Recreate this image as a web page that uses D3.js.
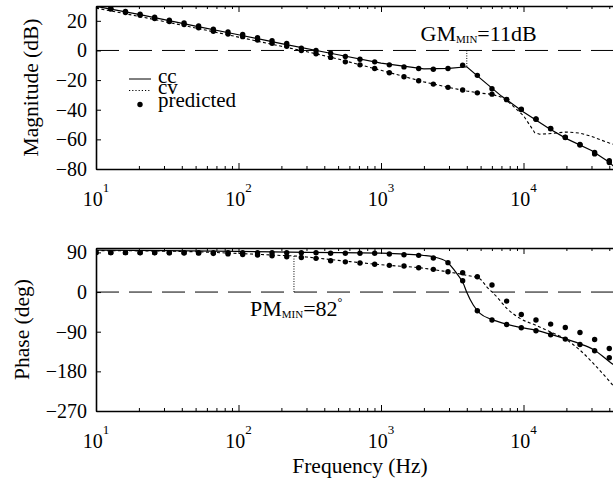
<!DOCTYPE html>
<html>
<head>
<meta charset="utf-8">
<script src="https://cdn.jsdelivr.net/npm/d3@7"></script>
<style>
  html, body { margin: 0; padding: 0; background: #fff; }
</style>
</head>
<body>
<svg id="chart" width="613" height="483"></svg>
<script>
// Frequencies (Hz) at which the predicted response is marked
const predFreq = [10, 12.7, 16.1, 20.4, 25.8, 32.7, 41.5, 52.5, 66.6, 84.4,
  107, 136, 172, 218, 276, 350, 443, 562, 712, 903,
  1144, 1450, 1838, 2329, 2952, 3741, 4742, 6010, 7617, 9652,
  12234, 15506, 19651, 24907, 31567, 40000];

// Predicted magnitude (dB)
const ccMagPred = [30.1, 28.5, 26.3, 24.5, 22.5, 20.5, 18.6, 16.5, 14.3, 12.5,
  10.8, 8.6, 6.6, 4.7, 1.6, 0, -1.8, -4, -5.9, -7.7,
  -9.7, -11.1, -12.2, -12.7, -12.2, -10, -16.8, -25.8, -33, -39.7,
  -46.2, -52.6, -58.5, -63.4, -68.9, -74.4];
const cvMagPred = [29.7, 27.9, 25.6, 23.7, 21.6, 19.5, 17.5, 15.3, 13.0, 11.1,
  9.3, 7.0, 4.9, 2.8, 0, -2.2, -4.7, -7.7, -9.7, -12.2,
  -15, -17.7, -20.4, -22.7, -24.9, -26.7, -28.6, -29.5, -33.2, -39.9,
  -46.4, -52.8, -58.7, -63.8, -69.8, -75.6];

// Predicted phase (deg)
const ccPhPred = [89.5, 89.5, 89.5, 89.5, 89.5, 89.4, 89.4, 89.4, 89.3, 89.3,
  89.3, 89.3, 89.3, 89.3, 89.3, 89.3, 88, 88, 88, 88,
  86.4, 84.8, 83.3, 77.3, 66.7, 25.8, -42.4, -63.6, -73.5, -81,
  -87.9, -97, -106.8, -118.9, -133.3, -149.2];
const cvPhPred = [89.5, 89.5, 89.4, 89.3, 89.2, 89, 88.7, 88.3, 87.6, 86.6,
  85.4, 84, 82.3, 80.3, 78.4, 76.5, 71.2, 68.6, 66, 63.2,
  60.6, 59, 55.3, 51.5, 46.2, 43.9, 34.8, 15.9, -20.5, -50.8,
  -63.6, -72.7, -80.3, -91.7, -107.6, -128];

// Measured curves, [frequency (Hz), value]
const ccMag = [[10, 29.8], [20, 24.3], [50, 16.4], [100, 10.6], [200, 4.6], [500, -2.9],
  [1000, -8.5], [2000, -12.4], [3000, -12.1], [4000, -11], [5000, -19], [7000, -30.8],
  [10000, -41.5], [15000, -52.5], [20000, -59.5], [30000, -67.5], [40000, -75.5], [45000, -80]];
const cvMag = [[10, 28.6], [20, 23.0], [50, 15.2], [100, 9.0], [200, 2.8], [350, -2.2],
  [500, -5.8], [1000, -13.4], [2000, -21.2], [3000, -25.0], [4000, -27.4], [5000, -28.8],
  [6000, -29.6], [7000, -31.5], [8000, -35.5], [10000, -44], [11000, -50], [12000, -55.5],
  [13000, -56.5], [15000, -56.2], [20000, -55], [25000, -55.8], [30000, -58], [40000, -62.5],
  [50000, -65]];
const ccPh = [[10, 95], [30, 94], [100, 92.5], [300, 90], [1000, 88.5], [1450, 86],
  [2000, 83], [2330, 80], [2890, 68.9], [3400, 42.4], [3780, 19.7], [3990, 0],
  [4440, -29.5], [4950, -48.5], [5980, -62.1], [7540, -72.7], [9550, -80.3], [12100, -86.4],
  [15350, -95.5], [19300, -105.3], [24500, -116.7], [30900, -130.3], [41600, -162], [50000, -180]];
const cvPh = [[10, 94], [20, 93.5], [50, 91.5], [100, 87.5], [150, 85], [200, 83],
  [245, 82], [300, 79.5], [500, 72], [1000, 62], [2000, 54], [2610, 48.5], [3210, 43.9],
  [3990, 37.9], [4900, 31], [5520, 12], [6490, -10.6], [7630, -37], [9450, -59.8],
  [12100, -75], [15350, -90.2], [19300, -105.2], [24900, -131.8], [30900, -162],
  [40500, -204], [50000, -240]];

// Axis ticks
const decadeExps = [1, 2, 3, 4];
const magTicks = [-80, -60, -40, -20, 0, 20];
const phaseTicks = [-270, -180, -90, 0, 90];

// Stability margins
const gainMargin = { freq: 4000, db: 11 };
const phaseMargin = { freq: 245, deg: 82 };

const FONT = "'Liberation Serif', 'Times New Roman', 'DejaVu Serif', serif";
const svg = d3.select("#chart");
const X0 = 96, DECADE = 142.5;
const x = d3.scaleLog().domain([10, 50000]).range([X0, X0 + DECADE * Math.log10(5000)]);

const allFreqTicks = [];
decadeExps.forEach(e => {
  for (let m = 1; m <= 9; m++) {
    const v = m * Math.pow(10, e);
    if (v <= 50000) allFreqTicks.push(v);
  }
});
const isDecade = v => Math.abs(Math.log10(v) - Math.round(Math.log10(v))) < 1e-9;
const fmtNum = d => d < 0 ? "\u2212" + Math.abs(d) : String(d);

const panels = [
  { id: "mag", top: 6, bottom: 169, domain: [-80, 30], ticks: magTicks,
    label: "Magnitude (dB)", labelX: 37.5,
    series: [
      { line: ccMag, pred: ccMagPred, dash: null },
      { line: cvMag, pred: cvMagPred, dash: "3,2.5" }
    ], curve: d3.curveLinear },
  { id: "ph", top: 248, bottom: 411, domain: [-270, 100], ticks: phaseTicks,
    label: "Phase (deg)", labelX: 29,
    series: [
      { line: ccPh, pred: ccPhPred, dash: null },
      { line: cvPh, pred: cvPhPred, dash: "3,2.5" }
    ], curve: d3.curveMonotoneX }
];

const W = 613;

panels.forEach(p => {
  const y = d3.scaleLinear().domain(p.domain).range([p.bottom, p.top]);
  p.y = y;
  const g = svg.append("g");

  // clip region of the plot area
  svg.append("clipPath").attr("id", "clip-" + p.id)
    .append("rect").attr("x", X0).attr("y", p.top)
    .attr("width", W - X0 + 20).attr("height", p.bottom - p.top);

  // zero reference line
  g.append("line")
    .attr("x1", X0).attr("x2", W + 20)
    .attr("y1", y(0)).attr("y2", y(0))
    .attr("stroke", "#000").attr("stroke-width", 1)
    .attr("stroke-dasharray", "23,10");

  // curves and predicted points
  const plot = g.append("g").attr("clip-path", "url(#clip-" + p.id + ")");
  const lineGen = d3.line().x(d => x(d[0])).y(d => y(d[1])).curve(p.curve);
  p.series.forEach(s => {
    plot.append("path")
      .datum(s.line)
      .attr("d", lineGen)
      .attr("fill", "none")
      .attr("stroke", "#000")
      .attr("stroke-width", s.dash ? 1.1 : 1.2)
      .attr("stroke-dasharray", s.dash);
  });
  p.series.forEach(s => {
    plot.append("g").selectAll("circle")
      .data(s.pred)
      .join("circle")
      .attr("cx", (d, i) => x(predFreq[i]))
      .attr("cy", d => y(d))
      .attr("r", 2.7)
      .attr("fill", "#000");
  });

  // left axis
  const yAxis = g.append("g").attr("transform", `translate(${X0},0)`)
    .call(d3.axisLeft(y).tickValues(p.ticks).tickSizeInner(-5).tickSizeOuter(0)
      .tickPadding(9).tickFormat(fmtNum));
  yAxis.select(".domain").attr("stroke-width", 1.6);
  yAxis.selectAll("text").attr("font-size", 20);

  // bottom axis
  const xb = g.append("g").attr("transform", `translate(0,${p.bottom})`)
    .call(d3.axisBottom(x).tickValues(allFreqTicks).tickSizeInner(-3).tickSizeOuter(0).tickFormat(""));
  xb.select(".domain").attr("stroke-width", 1.6);
  xb.selectAll(".tick line").filter(d => isDecade(d)).attr("y2", -6);

  // top border
  const xt = g.append("g").attr("transform", `translate(0,${p.top})`)
    .call(d3.axisTop(x).tickValues(allFreqTicks).tickSizeInner(-3).tickSizeOuter(0).tickFormat(""));
  xt.select(".domain").attr("stroke-width", 1.6);
  xt.selectAll(".tick line").filter(d => isDecade(d)).attr("y2", 6);

  // decade labels
  decadeExps.forEach(e => {
    const t = g.append("text")
      .attr("x", x(Math.pow(10, e)))
      .attr("y", p.bottom + 37)
      .attr("text-anchor", "middle")
      .attr("font-size", 20);
    t.append("tspan").text("10");
    t.append("tspan").attr("dy", -14).attr("font-size", 13).text(e);
  });

  // y label
  g.append("text")
    .attr("transform", `translate(${p.labelX},${(p.top + p.bottom) / 2}) rotate(-90)`)
    .attr("text-anchor", "middle")
    .attr("font-size", 21.5)
    .text(p.label);
});

// x label
svg.append("text")
  .attr("x", 360).attr("y", 473)
  .attr("text-anchor", "middle")
  .attr("font-size", 21.5)
  .text("Frequency (Hz)");

// legend
const mag = panels[0], ph = panels[1];
const lg = svg.append("g");
const legendItems = [
  { name: "cc", type: "solid", y: 79, ty: 83 },
  { name: "cv", type: "dotted", y: 90.5, ty: 93.5 },
  { name: "predicted", type: "dot", y: 104.5, ty: 106.5 }
];
legendItems.forEach(it => {
  if (it.type === "dot") {
    lg.append("circle").attr("cx", 140).attr("cy", it.y).attr("r", 2.7).attr("fill", "#000");
  } else {
    lg.append("line").attr("x1", 129).attr("x2", 151).attr("y1", it.y).attr("y2", it.y)
      .attr("stroke", "#000").attr("stroke-width", 1)
      .attr("stroke-dasharray", it.type === "dotted" ? "1.2,2" : null);
  }
  lg.append("text").attr("x", 158).attr("y", it.ty).attr("font-size", 21).text(it.name);
});

// gain margin marker
svg.append("line")
  .attr("x1", x(gainMargin.freq)).attr("x2", x(gainMargin.freq))
  .attr("y1", mag.y(0)).attr("y2", mag.y(-gainMargin.db))
  .attr("stroke", "#000").attr("stroke-width", 1).attr("stroke-dasharray", "1,1.5");
const gmT = svg.append("text").attr("x", 420.5).attr("y", 40.7).attr("font-size", 22);
gmT.append("tspan").text("GM");
gmT.append("tspan").attr("font-size", 11).attr("dy", 2).text("MIN");
gmT.append("tspan").attr("dy", -2).text("=" + gainMargin.db + "dB");

// phase margin marker
svg.append("line")
  .attr("x1", x(phaseMargin.freq)).attr("x2", x(phaseMargin.freq))
  .attr("y1", ph.y(0)).attr("y2", ph.y(phaseMargin.deg))
  .attr("stroke", "#000").attr("stroke-width", 1).attr("stroke-dasharray", "1,1.5");
const pmT = svg.append("text").attr("x", 250).attr("y", 316).attr("font-size", 22);
pmT.append("tspan").text("PM");
pmT.append("tspan").attr("font-size", 11).attr("dy", 2).text("MIN");
pmT.append("tspan").attr("dy", -2).text("=" + phaseMargin.deg);
pmT.append("tspan").attr("font-size", 12).attr("dy", -10).text("\u00B0");

// serif typeface on every label
svg.selectAll("text").style("font-family", FONT).style("fill", "#000");
svg.selectAll("g").attr("font-family", null);
</script>
</body>
</html>
